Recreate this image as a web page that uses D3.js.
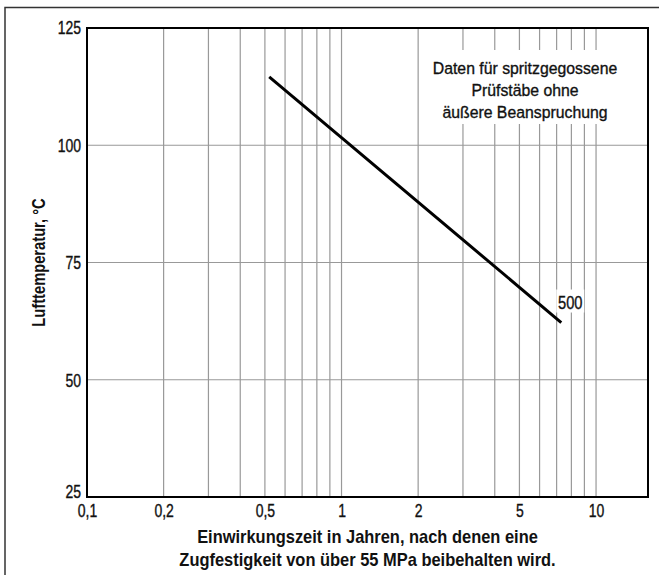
<!DOCTYPE html>
<html>
<head>
<meta charset="utf-8">
<script src="https://cdn.jsdelivr.net/npm/d3@7"></script>
<style>
  html, body { margin: 0; padding: 0; background: #fff; }
  svg { display: block; }
  .lbl { font-family: "Liberation Sans", Arial, sans-serif; fill: #111; }
  .med { stroke: #111; stroke-width: 0.35px; }
</style>
</head>
<body>
<svg id="chart" width="659" height="575"></svg>
<script>
// Exposure time in years (log scale) vs. air temperature in °C
const xTickValues = [0.1, 0.2, 0.5, 1, 2, 5, 10];
const xTickLabels = ["0,1", "0,2", "0,5", "1", "2", "5", "10"];
const xGridValues = [0.2, 0.3, 0.4, 0.5, 0.6, 0.7, 0.8, 0.9, 1, 2, 3, 4, 5, 6, 7, 8, 9, 10];
const yTickValues = [25, 50, 75, 100, 125];
const yGridValues = [50, 75, 100];

// Curve labelled 500: exposure time (years) and temperature (°C)
const curveYears = [0.52, 7.3];
const curveTemps = [114.6, 62.2];
const curveLabel = "500";

const noteLines = ["Daten für spritzgegossene", "Prüfstäbe ohne", "äußere Beanspruchung"];
const xTitleLines = ["Einwirkungszeit in Jahren, nach denen eine", "Zugfestigkeit von über 55 MPa beibehalten wird."];
const yTitle = "Lufttemperatur, °C";

const svg = d3.select("#chart");
const pL = 87, pR = 648, pT = 28, pB = 497;

const x = d3.scaleLog().domain([0.1, 16]).range([pL, pR]);
const y = d3.scaleLinear().domain([25, 125]).range([pB, pT]);

// narrow the glyphs horizontally to get a condensed face
function squeeze(sel, s) {
  sel.each(function () {
    const t = d3.select(this);
    const x0 = +t.attr("x") || 0;
    const tr = t.attr("transform") || "";
    t.attr("x", x0 / s).attr("transform", `${tr} scale(${s},1)`);
  });
}

// outer frame (top and left edges)
svg.append("path")
  .attr("d", `M5,575 L5,7.5 L659,7.5`)
  .attr("fill", "none").attr("stroke", "#333").attr("stroke-width", 1.5);

// grid
const grid = svg.append("g");
grid.selectAll("line.vx").data(xGridValues).join("line")
  .attr("x1", d => x(d)).attr("x2", d => x(d))
  .attr("y1", pT).attr("y2", pB)
  .attr("stroke", "#999").attr("stroke-width", 1.2);
grid.selectAll("line.hy").data(yGridValues).join("line")
  .attr("x1", pL).attr("x2", pR)
  .attr("y1", d => y(d)).attr("y2", d => y(d))
  .attr("stroke", "#999").attr("stroke-width", 1.2);

// white backing for the note
const note = svg.append("g");
note.append("rect")
  .attr("x", 426).attr("y", 50).attr("width", 198).attr("height", 74)
  .attr("fill", "#fff");
note.selectAll("text").data(noteLines).join("text")
  .attr("class", "lbl med")
  .attr("x", 525).attr("y", (d, i) => 74 + i * 22)
  .attr("text-anchor", "middle")
  .attr("font-size", 17)
  .text(d => d)
  .call(squeeze, 0.93);

// curve
const line = d3.line().x(d => x(d[0])).y(d => y(d[1]));
const pts = d3.zip(curveYears, curveTemps);
svg.append("path")
  .attr("d", line(pts))
  .attr("fill", "none").attr("stroke", "#000").attr("stroke-width", 3);

// curve label
const last = pts[pts.length - 1];
const lx = x(last[0]) + 9, ly = y(last[1]) - 14;
svg.append("rect")
  .attr("x", lx - 14).attr("y", ly - 19).attr("width", 28).attr("height", 23)
  .attr("fill", "#fff");
svg.append("text").attr("class", "lbl med")
  .attr("x", lx).attr("y", ly)
  .attr("text-anchor", "middle").attr("font-size", 17.5)
  .text(curveLabel)
  .call(squeeze, 0.84);

// plot border
svg.append("rect")
  .attr("x", pL).attr("y", pT).attr("width", pR - pL).attr("height", pB - pT)
  .attr("fill", "none").attr("stroke", "#000").attr("stroke-width", 2);

// x axis labels
const xAxis = d3.axisBottom(x).tickValues(xTickValues)
  .tickFormat((d, i) => xTickLabels[i]).tickSize(0).tickPadding(8);
const gx = svg.append("g").attr("transform", `translate(0,${pB})`).call(xAxis);
gx.select(".domain").remove();
gx.selectAll("text").attr("class", "lbl med").attr("font-size", 17.5).attr("fill", "#111")
  .call(squeeze, 0.8);

// y axis labels
const yAxis = d3.axisLeft(y).tickValues(yTickValues).tickSize(0).tickPadding(6);
const gy = svg.append("g").attr("transform", `translate(${pL},0)`).call(yAxis);
gy.select(".domain").remove();
gy.selectAll("text").attr("class", "lbl med").attr("font-size", 17.5).attr("fill", "#111")
  .attr("dy", d => d === 25 ? "0em" : d === 125 ? "0.3em" : "0.37em")
  .call(squeeze, 0.8);

// axis titles
svg.append("g").selectAll("text").data(xTitleLines).join("text")
  .attr("class", "lbl")
  .attr("x", (pL + pR) / 2).attr("y", (d, i) => 543 + i * 23)
  .attr("text-anchor", "middle").attr("font-size", 17.5).attr("font-weight", "bold")
  .text(d => d)
  .call(squeeze, 0.94);

svg.append("text").attr("class", "lbl")
  .attr("transform", `translate(45,${(pT + pB) / 2}) rotate(-90)`)
  .attr("text-anchor", "middle").attr("font-size", 17.5).attr("font-weight", "bold")
  .text(yTitle)
  .call(squeeze, 0.84);
</script>
</body>
</html>
